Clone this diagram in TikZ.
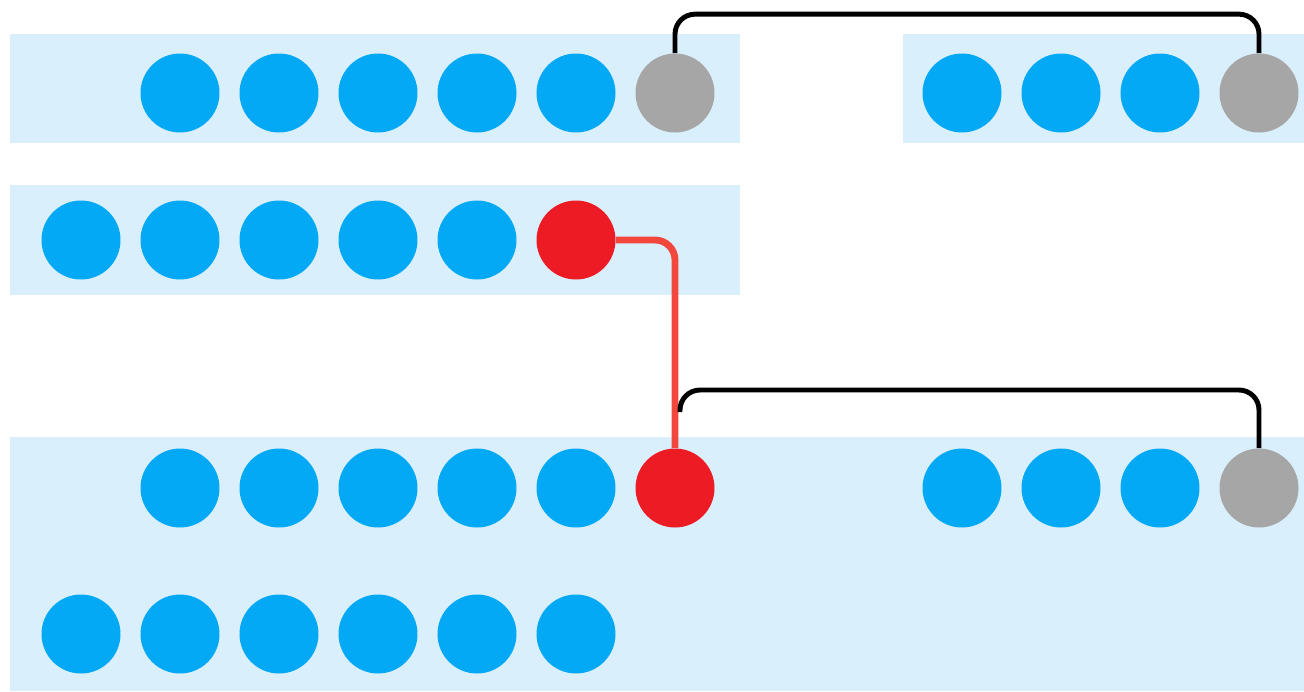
\documentclass[tikz,border=0pt]{standalone}
\usepackage{tikz}

\definecolor{bandblue}{HTML}{D9EFFB}
\definecolor{dotblue}{HTML}{03A9F4}
\definecolor{dotgray}{HTML}{A6A6A6}
\definecolor{dotred}{HTML}{ED1C24}
\definecolor{linkred}{HTML}{F2473D}

\begin{document}
\begin{tikzpicture}[x=0.02cm,y=-0.02cm,
  dot/.style={circle,inner sep=0pt,minimum size=1.58cm,fill=dotblue},
  grey/.style={dot,fill=dotgray},
  hot/.style={dot,fill=dotred},
  link/.style={line width=2.8pt,rounded corners=0.4cm},
  redlink/.style={line width=3.9pt,rounded corners=0.4cm,draw=linkred}]
  \useasboundingbox (0,0) rectangle (1304,691);
  % bands
  \fill[bandblue] (10,34) rectangle (740,143);
  \fill[bandblue] (903,34) rectangle (1304,143);
  \fill[bandblue] (10,185) rectangle (740,295);
  \fill[bandblue] (10,437) rectangle (1304,691);
  % rows of dots
  \foreach \i/\x in {1/180,2/279,3/378,4/477,5/576}
    \node[dot] (a\i) at (\x,93) {};
  \node[grey] (ag) at (675,93) {};
  \foreach \i/\x in {1/962,2/1061,3/1160}
    \node[dot] (b\i) at (\x,93) {};
  \node[grey] (bg) at (1259,93) {};
  \foreach \i/\x in {1/81,2/180,3/279,4/378,5/477}
    \node[dot] (c\i) at (\x,240) {};
  \node[hot] (cr) at (576,240) {};
  \foreach \i/\x in {1/180,2/279,3/378,4/477,5/576}
    \node[dot] (d\i) at (\x,488) {};
  \node[hot] (dr) at (675,488) {};
  \foreach \i/\x in {1/962,2/1061,3/1160}
    \node[dot] (e\i) at (\x,488) {};
  \node[grey] (eg) at (1259,488) {};
  \foreach \i/\x in {1/81,2/180,3/279,4/378,5/477,6/576}
    \node[dot] (f\i) at (\x,634) {};
  % links
  \draw[link] (ag.north) -- ++(0,-39) -| (bg.north);
  \draw[redlink] (cr.east) -| (dr.north);
  \coordinate (s) at (680,412);
  \draw[link] (s) -- ++(0,-22) -| (eg.north);
\end{tikzpicture}
\end{document}
